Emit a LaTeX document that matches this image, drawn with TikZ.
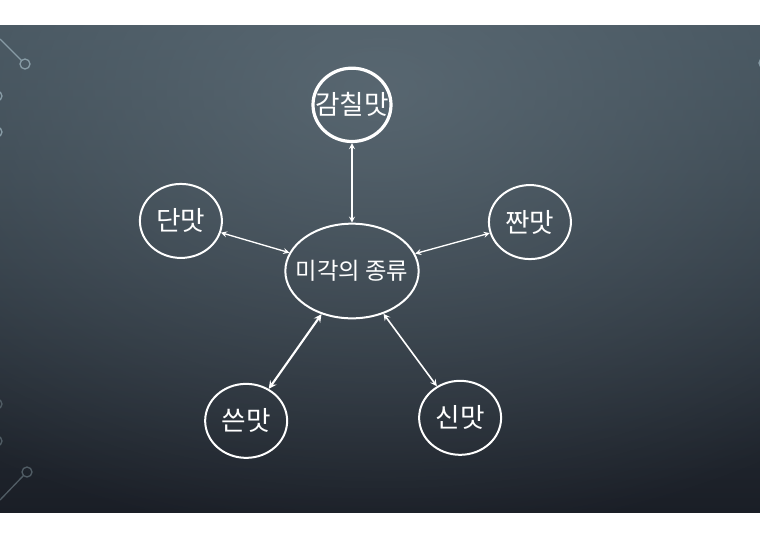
\documentclass[tikz,border=0pt]{standalone}
\usepackage{fontspec}
\usepackage{tikz}
\usetikzlibrary{shapes.geometric, arrows, fadings}
\newfontfamily\kr{Noto Sans CJK KR}
\definecolor{slidetop}{RGB}{64,79,89}
\definecolor{slidebottom}{RGB}{26,30,38}
\definecolor{slidespot}{RGB}{100,115,125}
\definecolor{decotop}{RGB}{135,155,165}
\definecolor{decobottom}{RGB}{80,92,100}
\tikzfading[name=spot fade, inner color=transparent!0, outer color=transparent!100]
\tikzstyle{taste} = [ellipse, 
draw=white, 
line width=1.5pt,
minimum width=61.5pt, 
minimum height=55.5pt,
inner xsep=-9pt,
inner ysep=0pt,
text=white,
font=\kr\fontsize{20}{20}\selectfont]
\tikzstyle{kind} = [taste, 
minimum width=100pt, 
minimum height=71pt,
inner xsep=-10pt,
font=\kr\fontsize{17.5}{17.5}\selectfont]
\tikzstyle{arrow} = [white,line width=1pt,<->,>=stealth]
\tikzstyle{deco} = [line width=1pt]

\begin{document}
\begin{tikzpicture}[x=0.75pt,y=-0.75pt,node distance=4cm]
        \useasboundingbox (0,0) rectangle (760,537);
        \fill[white] (0,0) rectangle (760,537);
        % slide background
        \shade[top color=slidetop, bottom color=slidebottom] (0,25) rectangle (760,512);
        \begin{scope}
        \clip (0,25) rectangle (760,512);
        \fill[slidespot, path fading=spot fade, fill opacity=0.7] (380,90) ellipse (700 and 450);
        \end{scope}
        % corner ornaments
        \draw[deco, decotop] (0,39) -- (21.5,60.5);
        \draw[deco, decotop] (25,64) circle (5);
        \draw[deco, decotop] (-3,96) circle (5);
        \draw[deco, decotop] (-3,132) circle (5);
        \draw[deco, decotop] (764,63) circle (5);
        \draw[deco, decobottom] (-3,404) circle (5);
        \draw[deco, decobottom] (-3,441) circle (5);
        \draw[deco, decobottom] (0,500) -- (23.5,475.5);
        \draw[deco, decobottom] (27,472) circle (5);
        % taste nodes
        \node (kinds) [kind] at (352,271) {미각의 종류};
        \node (umami) [taste, above of=kinds, yshift=0.38cm, line width=2.4pt, minimum width=58.5pt, minimum height=55pt] {감칠맛};
        \node (sweet) [taste, left of=kinds, xshift=-0.51cm, yshift=1.32cm] {단맛};
        \node (salty) [taste, right of=kinds, xshift=0.69cm, yshift=1.29cm] {짠맛};
        \node (bitter) [taste, below of=kinds, xshift=-2.79cm, yshift=0.05cm] {쓴맛};
        \node (sour) [taste, below of=kinds, xshift=2.85cm, yshift=0.13cm] {신맛};
        \draw [arrow] (kinds) -- (umami);
        \draw [arrow] (kinds) -- (sweet);
        \draw [arrow] (kinds) -- (salty);
        \draw [arrow, line width=1.6pt] (kinds) -- (bitter);
        \draw [arrow, line width=1.2pt] (kinds) -- (sour);
    \end{tikzpicture}
\end{document}
